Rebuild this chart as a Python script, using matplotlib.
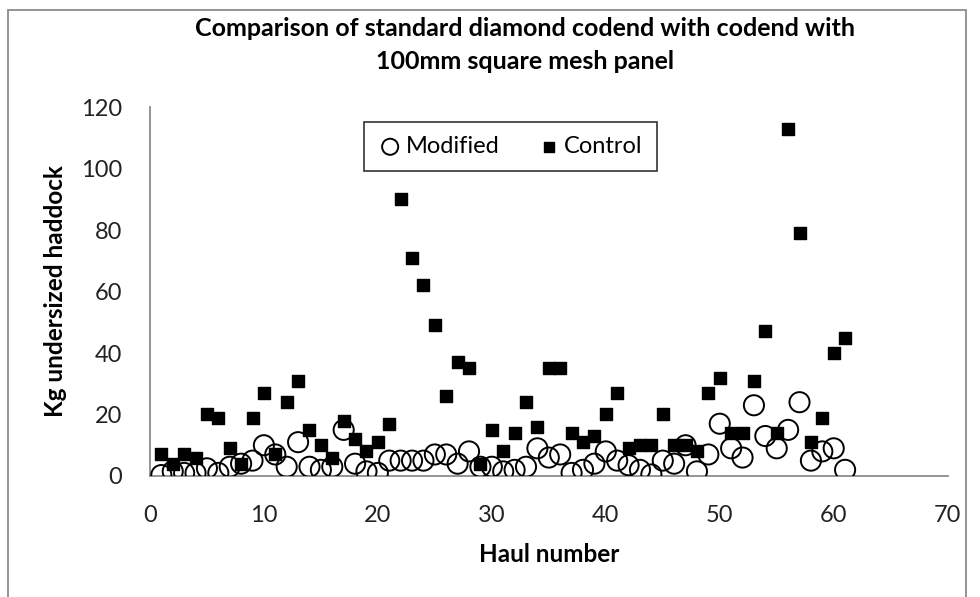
import matplotlib
matplotlib.use("Agg")
import matplotlib.pyplot as plt
from matplotlib.patches import Rectangle

# haul numbers 1..61
hauls = list(range(1, 62))

control = [7, 4, 7, 6, 20, 19, 9, 4, 19, 27,
           7, 24, 31, 15, 10, 6, 18, 12, 8, 11,
           17, 90, 71, 62, 49, 26, 37, 35, 4, 15,
           8, 14, 24, 16, 35, 35, 14, 11, 13, 20,
           27, 9, 10, 10, 20, 10, 10, 8, 27, 32,
           14, 14, 31, 47, 14, 113, 79, 11, 19, 40,
           45]

modified = [0.3, 1.5, 1, 1, 2.5, 1, 3, 4, 5, 10,
            7, 3, 11, 3, 2, 3, 15, 4, 1.5, 1,
            5, 5, 5, 5, 7, 7, 4, 8, 3, 3,
            1.5, 2, 3, 9, 6, 7, 1, 2, 4, 8,
            5, 3.5, 2, 0.5, 5, 4, 10, 1.5, 7, 17,
            9, 6, 23, 13, 9, 15, 24, 5, 8, 9,
            2]

x_ticks = [0, 10, 20, 30, 40, 50, 60, 70]
y_ticks = [0, 20, 40, 60, 80, 100, 120]

plt.rcParams['font.family'] = ['Lato', 'DejaVu Sans']

fig = plt.figure(figsize=(9.8, 5.97), dpi=100)
ax = fig.add_axes([0.153, 0.2027, 0.814, 0.618])

ax.scatter(hauls, modified, s=210, facecolors='none', edgecolors='black',
           linewidths=1.4, marker='o', label='Modified', zorder=3)
ax.scatter(hauls, control, s=75, color='black', marker='s',
           label='Control', zorder=2)

ax.set_xlim(0, 70)
ax.set_ylim(0, 120)
ax.set_xticks(x_ticks)
ax.set_yticks(y_ticks)
ax.tick_params(axis='both', length=0, labelsize=17, colors='#222222')
ax.tick_params(axis='x', pad=21)
ax.tick_params(axis='y', pad=20)

for side in ['top', 'right']:
    ax.spines[side].set_visible(False)
for side in ['left', 'bottom']:
    ax.spines[side].set_color('#8c8c8c')
    ax.spines[side].set_linewidth(1.3)

ax.set_xlabel("Haul number", fontsize=17.5, fontweight='bold', labelpad=12)
ax.set_ylabel("Kg undersized haddock", fontsize=17.5, fontweight='bold', labelpad=10)

fig.text(0.536, 0.925, "Comparison of standard diamond codend with codend with\n100mm square mesh panel",
         ha='center', va='center', fontsize=18, fontweight='bold', linespacing=1.5)

leg = ax.legend(loc='upper center', bbox_to_anchor=(0.452, 0.992), ncol=2, fontsize=17,
                frameon=True, fancybox=False, edgecolor='black', handletextpad=0.15,
                columnspacing=1.6, borderpad=0.6, handlelength=1.0, markerscale=0.8)
leg.get_frame().set_linewidth(1.2)

# chart border
fig.patches.append(Rectangle((0.008, -0.1), 0.978, 1.083, transform=fig.transFigure,
                             fill=False, edgecolor='#8c8c8c', linewidth=1.3))

fig.savefig("out.png", dpi=100)
